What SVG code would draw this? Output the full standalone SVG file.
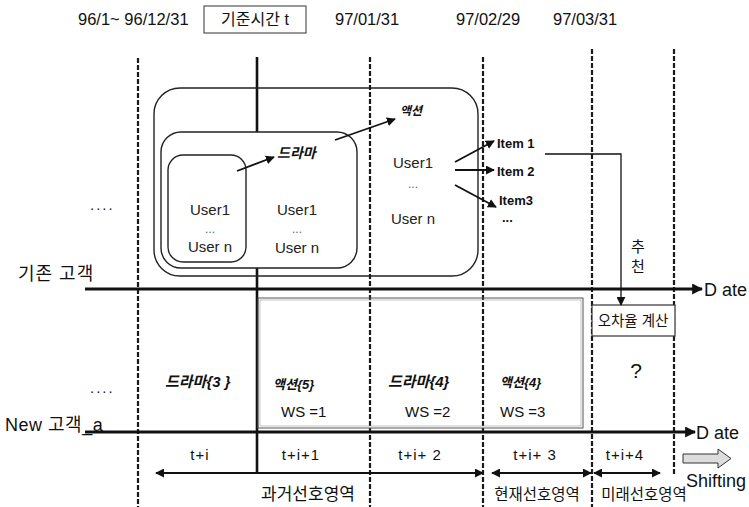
<svg xmlns="http://www.w3.org/2000/svg" width="749" height="507" viewBox="0 0 749 507">
<defs>
<marker id="ah" viewBox="0 0 10 10" refX="9" refY="5" markerWidth="9" markerHeight="9" markerUnits="userSpaceOnUse" orient="auto-start-reverse"><path d="M0,0 L10,5 L0,10 z" fill="#111"/></marker>
<marker id="ahb" viewBox="0 0 10 10" refX="9" refY="5" markerWidth="11" markerHeight="11" markerUnits="userSpaceOnUse" orient="auto-start-reverse"><path d="M0,0 L10,5 L0,10 z" fill="#111"/></marker>
</defs>
<style>
text{font-family:"Liberation Sans","Noto Sans CJK KR",sans-serif;fill:#111}
.top{font-size:16.5px}
.u{font-size:15px;fill:#222}
.dots{font-size:12px;fill:#666}
.it{font-style:italic;font-weight:bold;font-size:14px}
.b{font-weight:bold;font-size:13px}
.ko{font-size:17px}
.kb{font-size:15.5px}
.p{font-size:15px;letter-spacing:1px}
.ws{font-size:15px}
.dash{stroke:#1a1a1a;stroke-width:2.2;stroke-dasharray:5 2;fill:none}
.axis{stroke:#111;stroke-width:3;fill:none}
.thin{stroke:#222;stroke-width:1.4;fill:none}
.arr{stroke:#111;stroke-width:1.8;fill:none}
</style>
<rect width="749" height="507" fill="#fff"/>

<g id="timeline-labels">
<text class="top" x="78" y="25">96/1~ 96/12/31</text>
<rect x="204" y="6" width="102" height="27" fill="#fff" stroke="#333" stroke-width="1"/>
<text class="top" x="255" y="25" text-anchor="middle" style="font-size:16px">기준시간 t</text>
<text class="top" x="335" y="25">97/01/31</text>
<text class="top" x="456" y="25">97/02/29</text>
<text class="top" x="553" y="25">97/03/31</text>
</g>

<g id="gridlines">
<line class="dash" x1="138" y1="58" x2="138" y2="507"/>
<line class="dash" x1="370" y1="57" x2="370" y2="507"/>
<line class="dash" x1="483" y1="57" x2="483" y2="507"/>
<line class="dash" x1="592" y1="49" x2="592" y2="507"/>
<line class="dash" x1="674" y1="49" x2="674" y2="474"/>
<line stroke="#111" stroke-width="2.6" x1="257" y1="57" x2="257" y2="132"/>
<line stroke="#111" stroke-width="2.6" x1="257" y1="268" x2="257" y2="474"/>
</g>

<g id="existing-users">
<rect x="154" y="88" width="324" height="188" rx="26" class="thin"/>
<rect x="161" y="132" width="196" height="136" rx="20" class="thin" stroke-width="1.8"/>
<rect x="168" y="155" width="78" height="107" rx="15" class="thin" stroke-width="2"/>
<text class="u" x="210" y="215" text-anchor="middle">User1</text>
<text class="dots" x="210" y="233" text-anchor="middle">...</text>
<text class="u" x="210" y="252" text-anchor="middle">User n</text>
<text class="u" x="297" y="215" text-anchor="middle">User1</text>
<text class="dots" x="297" y="233" text-anchor="middle">...</text>
<text class="u" x="297" y="253" text-anchor="middle">User n</text>
<text class="it" x="277" y="158">드라마</text>
<text class="it" x="400" y="115" style="font-size:12px">액션</text>
<text class="u" x="413" y="168" text-anchor="middle">User1</text>
<text class="dots" x="413" y="188" text-anchor="middle">...</text>
<text class="u" x="413" y="224" text-anchor="middle">User n</text>
<text class="b" x="497" y="148">Item 1</text>
<text class="b" x="497" y="176">Item 2</text>
<text class="b" x="499" y="205">Item3</text>
<text class="b" x="502" y="222">...</text>
<text class="ko" x="638" y="252" text-anchor="middle" style="font-size:15px">추</text>
<text class="ko" x="638" y="272" text-anchor="middle" style="font-size:15px">천</text>
</g>

<g id="left-labels">
<text class="u" x="90" y="210" style="letter-spacing:2px">....</text>
<text class="ko" x="18" y="280" style="font-size:18px;letter-spacing:1px">기존 고객</text>
<text class="u" x="90" y="393" style="letter-spacing:2px">....</text>
<text class="ko" x="5" y="431" style="font-size:18px;letter-spacing:0.5px">New 고객_a</text>
</g>

<g id="new-user">
<rect x="258" y="298" width="325" height="130" fill="none" stroke="#555" stroke-width="1"/>
<rect x="260" y="300" width="321" height="126" fill="none" stroke="#999" stroke-width="0.6"/>
<text class="it" x="165" y="387" style="font-size:15px">드라마{3 }</text>
<text class="it" x="273" y="389" style="font-size:13px">액션{5}</text>
<text class="ws" x="281" y="417">WS =1</text>
<text class="it" x="388" y="387" style="font-size:15px">드라마{4}</text>
<text class="ws" x="405" y="417">WS =2</text>
<text class="it" x="500" y="387" style="font-size:13px">액션{4}</text>
<text class="ws" x="500" y="417">WS =3</text>
<text x="636" y="378" text-anchor="middle" style="font-size:21px">?</text>
</g>

<g id="error-calc">
<rect x="592" y="305" width="83" height="31" fill="#fff" stroke="#333" stroke-width="1.2"/>
<text x="633" y="326" text-anchor="middle" style="font-size:14.5px">오차율 계산</text>
</g>

<g id="periods">
<text class="p" x="200" y="460" text-anchor="middle">t+i</text>
<text class="p" x="301" y="460" text-anchor="middle">t+i+1</text>
<text class="p" x="420" y="460" text-anchor="middle">t+i+ 2</text>
<text class="p" x="535" y="460" text-anchor="middle">t+i+ 3</text>
<text class="p" x="625" y="460" text-anchor="middle">t+i+4</text>
<text class="kb" x="308" y="500" text-anchor="middle" style="font-size:17px">과거선호영역</text>
<text class="kb" x="537" y="500" text-anchor="middle">현재선호영역</text>
<text class="kb" x="644" y="500" text-anchor="middle">미래선호영역</text>
<path d="M683,454 L718,454 L718,449 L731,458.5 L718,468 L718,463 L683,463 z" fill="#ddd" stroke="#333" stroke-width="1"/>
<text x="686" y="487" style="font-size:18px">Shifting</text>
</g>

<g id="connectors">
<line class="axis" x1="85" y1="289" x2="702" y2="289" marker-end="url(#ahb)"/>
<text x="704" y="296" style="font-size:18px">D ate</text>
<line class="axis" x1="85" y1="432" x2="695" y2="432" marker-end="url(#ahb)"/>
<text x="696" y="439" style="font-size:18px">D ate</text>
<line class="arr" x1="237" y1="171" x2="274" y2="157" marker-end="url(#ah)"/>
<line class="arr" x1="335" y1="140" x2="395" y2="119" marker-end="url(#ah)"/>
<line class="arr" x1="455" y1="162" x2="494" y2="141" marker-end="url(#ah)"/>
<line class="arr" x1="455" y1="170" x2="494" y2="170" marker-end="url(#ah)"/>
<line class="arr" x1="455" y1="185" x2="496" y2="207" marker-end="url(#ah)"/>
<polyline points="545,154 621,154 621,305" fill="none" stroke="#111" stroke-width="1.3" marker-end="url(#ah)"/>
<line class="arr" stroke-width="2.2" x1="156" y1="473" x2="483" y2="473" marker-start="url(#ah)" marker-end="url(#ah)"/>
<line class="arr" stroke-width="2.2" x1="492" y1="473" x2="591" y2="473" marker-start="url(#ah)" marker-end="url(#ah)"/>
<line class="arr" stroke-width="2.2" x1="594" y1="473" x2="660" y2="473" marker-start="url(#ah)" marker-end="url(#ah)"/>
</g>
</svg>
